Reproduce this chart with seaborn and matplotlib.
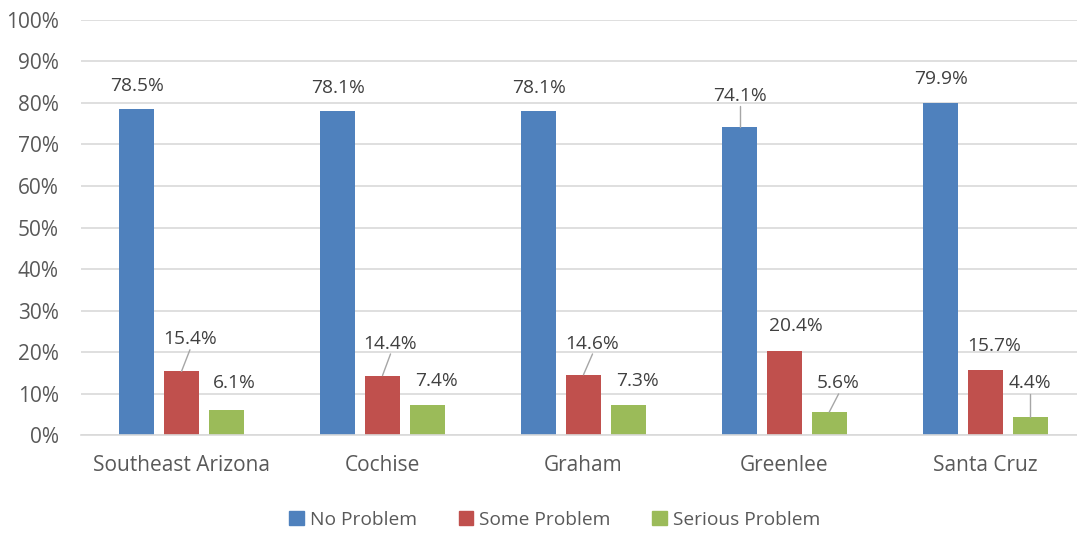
import pandas as pd
import matplotlib.pyplot as plt
import seaborn as sns

# data
regions = ['Southeast Arizona', 'Cochise', 'Graham', 'Greenlee', 'Santa Cruz']
series = ['No Problem', 'Some Problem', 'Serious Problem']
no_problem = [78.5, 78.1, 78.1, 74.1, 79.9]
some_problem = [15.4, 14.4, 14.6, 20.4, 15.7]
serious_problem = [6.1, 7.4, 7.3, 5.6, 4.4]

colors = ['#4F81BD', '#C0504D', '#9BBB59']

# label placement (Excel-style): dx in category units, dy in % points, leader line flag
label_dx = [[0, 0, 0, 0, 0],
            [0.042, 0.04, 0.045, 0.055, 0.045],
            [0.04, 0.047, 0.047, 0.047, 0]]
label_dy = [[5.6, 5.5, 5.5, 7.6, 5.7],
            [7.7, 7.7, 7.5, 5.8, 5.7],
            [6.4, 5.8, 5.9, 6.9, 8.1]]
leader = [[False, False, False, True, False],
          [True, True, True, False, False],
          [False, False, False, True, True]]

df = pd.DataFrame({
    'region': regions * 3,
    'series': [s for s in series for _ in regions],
    'value': no_problem + some_problem + serious_problem,
})

sns.set_style('white')
plt.rcParams['font.family'] = ['Open Sans', 'DejaVu Sans']
TICK_FS = 15
LABEL_FS = 13.8

fig = plt.figure(figsize=(10.77, 5.33), dpi=100)
ax = fig.add_axes([81 / 1077, 0.183, 1005 / 1077, 0.7803])

sns.barplot(data=df, x='region', y='value', hue='series', hue_order=series,
            palette=colors, width=0.667, gap=0.21, ax=ax, legend=False,
            saturation=1, edgecolor='none')

ax.set_xlim(-0.5, 4.5)
ax.set_ylim(0, 100)
ax.set_yticks(range(0, 101, 10))
ax.set_yticklabels([f'{v}%' for v in range(0, 101, 10)])
ax.yaxis.grid(True, color='#D9D9D9', linewidth=1.2)
ax.set_axisbelow(True)
for side in ['top', 'right', 'left']:
    ax.spines[side].set_visible(False)
ax.spines['bottom'].set_color('#D9D9D9')
ax.spines['bottom'].set_linewidth(1.2)
ax.tick_params(axis='both', length=0, labelsize=TICK_FS, labelcolor='#595959')
ax.tick_params(axis='x', pad=14)
ax.tick_params(axis='y', pad=16)
ax.set_xlabel('')
ax.set_ylabel('')

# data labels
for si, cont in enumerate(ax.containers):
    for ci, bar in enumerate(cont):
        x = bar.get_x() + bar.get_width() / 2
        h = bar.get_height()
        tx = x + label_dx[si][ci]
        ty = h + label_dy[si][ci]
        ax.text(tx, ty, f'{h:.1f}%', ha='center', va='center',
                fontsize=LABEL_FS, color='#404040')
        if leader[si][ci]:
            ax.plot([x, tx], [h, ty - 2.5], color='#A6A6A6', linewidth=1)

handles = [plt.Rectangle((0, 0), 1, 1, color=c) for c in colors]
fig.legend(handles, series, loc='center', ncol=3, frameon=False,
           bbox_to_anchor=(0.515, 13 / 533), fontsize=LABEL_FS, labelcolor='#595959',
           handlelength=0.75, handleheight=0.75, handletextpad=0.3,
           columnspacing=2.2)

plt.savefig('out.png', dpi=100)
